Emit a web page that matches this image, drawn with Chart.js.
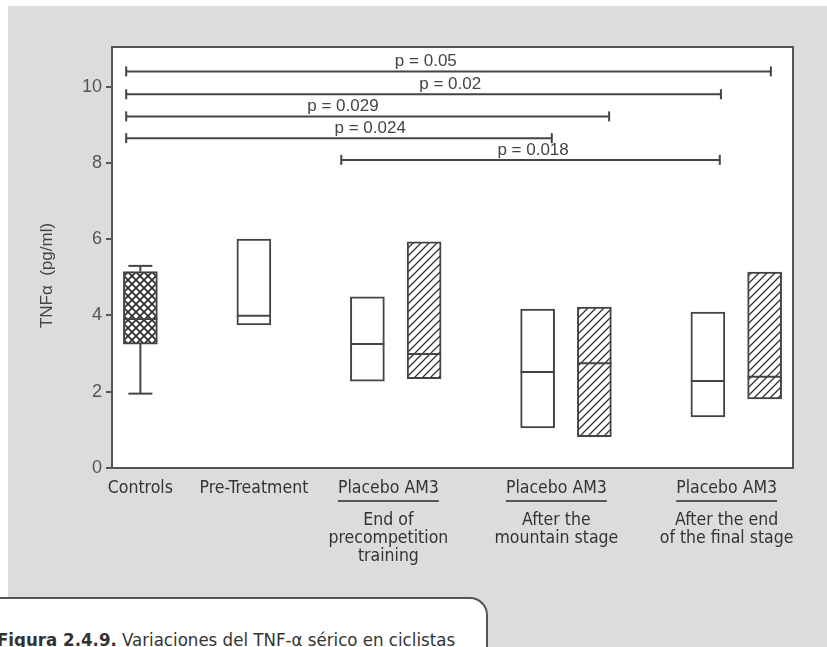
<!DOCTYPE html>
<html>
<head>
<meta charset="utf-8">
<script src="https://cdn.jsdelivr.net/npm/chart.js@4/dist/chart.umd.min.js"></script>
<style>
  html, body { margin: 0; padding: 0; background: #fff; width: 827px; height: 647px; overflow: hidden; }
  #bg { position: absolute; left: 8px; top: 6px; width: 819px; height: 641px; background: #dcdcdc; }
  #wrap { position: absolute; left: 0; top: 0; width: 827px; height: 647px; z-index: 1; }
  #caption {
    position: absolute; left: -20px; top: 597px; width: 508px; height: 70px; z-index: 2;
    background: #fff; border-top: 2px solid #555; border-right: 2px solid #555;
    border-top-right-radius: 18px; box-sizing: border-box;
  }
  #caption span.txt {
    position: absolute; left: 17px; top: 32px; white-space: nowrap;
    font: 18.5px 'DejaVu Sans Condensed', 'DejaVu Sans', sans-serif; color: #333; line-height: 1;
  }
  #caption b { font-weight: bold; }
</style>
</head>
<body>
<div id="bg"></div>
<div id="wrap"><canvas id="chart" width="827" height="647"></canvas></div>
<div id="caption"><span class="txt"><b>Figura 2.4.9.</b> Variaciones del TNF-α sérico en ciclistas</span></div>
<script>
// ── Data ─────────────────────────────────────────────────────────────────────
const boxNames   = ['Controls', 'Pre-Treatment',
                    'Placebo precomp', 'AM3 precomp',
                    'Placebo mountain', 'AM3 mountain',
                    'Placebo final', 'AM3 final']
const boxX       = [0.5, 2.5, 4.5, 5.5, 7.5, 8.5, 10.5, 11.5]
const boxLow     = [3.25, 3.75, 2.28, 2.34, 1.05, 0.82, 1.34, 1.81]
const boxHigh    = [5.15, 6.00, 4.49, 5.93, 4.17, 4.22, 4.09, 5.14]
const boxMedian  = [3.91, 3.99, 3.25, 2.99, 2.52, 2.75, 2.28, 2.39]
const boxFill    = ['cross', 'none', 'none', 'diag', 'none', 'diag', 'none', 'diag']

// controls whiskers (min / max)
const whiskerLow  = 1.95
const whiskerHigh = 5.30

// significance brackets
const bracketP      = ['p = 0.05', 'p = 0.02', 'p = 0.029', 'p = 0.024', 'p = 0.018']
const bracketY      = [10.40, 9.80, 9.22, 8.65, 8.08]
const bracketFrom   = [0.25, 0.25, 0.25, 0.25, 4.04]
const bracketTo     = [11.61, 10.73, 8.76, 7.75, 10.71]
const bracketLabelX = [5.53, 5.96, 4.07, 4.55, 7.42]

// x-axis labels
const singleLabels  = ['Controls', 'Pre-Treatment']
const singleLabelX  = [0.5, 2.5]
const groupTitle    = 'Placebo AM3'
const groupLabelX   = [4.87, 7.83, 10.83]
const groupSubtitle = [['End of', 'precompetition', 'training'],
                       ['After the', 'mountain stage'],
                       ['After the end', 'of the final stage']]

const yTicks = [0, 2, 4, 6, 8, 10]
const yTitle = 'TNFα  (pg/ml)'

// ── Styles ───────────────────────────────────────────────────────────────────
const ink      = '#444'
const frameCol = '#555'
const condFont = "'DejaVu Sans Condensed', 'DejaVu Sans', sans-serif"
const plainFont = "'Liberation Sans', Arial, sans-serif"

function makePattern(kind) {
  const size = 8
  const c = document.createElement('canvas')
  c.width = size; c.height = size
  const g = c.getContext('2d')
  g.fillStyle = '#fff'
  g.fillRect(0, 0, size, size)
  g.strokeStyle = '#333'
  g.lineWidth = kind === 'cross' ? 1.8 : 1.3
  g.beginPath()
  g.moveTo(-1, size + 1); g.lineTo(size + 1, -1)
  g.moveTo(-1, 1); g.lineTo(1, -1)
  g.moveTo(size - 1, size + 1); g.lineTo(size + 1, size - 1)
  g.stroke()
  if (kind === 'cross') {
    g.beginPath()
    g.moveTo(-1, -1); g.lineTo(size + 1, size + 1)
    g.moveTo(size - 1, -1); g.lineTo(size + 1, 1)
    g.moveTo(-1, size - 1); g.lineTo(1, size + 1)
    g.stroke()
  }
  return g.createPattern(c, 'repeat')
}

const fills = boxFill.map(f => f === 'none' ? '#fff' : makePattern(f))

// ── Datasets ─────────────────────────────────────────────────────────────────
const boxes = {
  type: 'bar',
  label: 'boxes',
  data: boxX.map((x, i) => ({ x, y: [boxLow[i], boxHigh[i]] })),
  backgroundColor: fills,
  borderColor: ink,
  borderWidth: 2,
  borderSkipped: false,
  barThickness: 34,
  order: 5,
}

const medians = {
  type: 'scatter',
  label: 'median',
  data: boxX.map((x, i) => ({ x, y: boxMedian[i] })),
  pointStyle: 'line',
  pointRadius: 17,
  borderColor: ink,
  borderWidth: 2,
  order: 1,
}

const whiskers = [
  [whiskerLow, boxLow[0]],
  [boxHigh[0], whiskerHigh],
].map(([a, b]) => ({
  type: 'line',
  data: [{ x: boxX[0], y: a }, { x: boxX[0], y: b }],
  borderColor: ink, borderWidth: 2, pointRadius: 0, fill: false,
  order: 6,
}))

const whiskerCaps = {
  type: 'scatter',
  data: [{ x: boxX[0], y: whiskerLow }, { x: boxX[0], y: whiskerHigh }],
  pointStyle: 'line', pointRadius: 12, borderColor: ink, borderWidth: 2,
  order: 6,
}

const brackets = bracketY.map((y, i) => ({
  type: 'line',
  data: [{ x: bracketFrom[i], y }, { x: bracketTo[i], y }],
  borderColor: ink, borderWidth: 2, pointRadius: 0, fill: false,
  order: 2,
}))

const bracketEnds = {
  type: 'scatter',
  data: bracketY.flatMap((y, i) => [{ x: bracketFrom[i], y }, { x: bracketTo[i], y }]),
  pointStyle: 'line', rotation: 90, pointRadius: 5, borderColor: ink, borderWidth: 2,
  order: 2,
}

// ── Decoration plugin: plot bg, frame, texts ─────────────────────────────────
const decor = {
  id: 'decor',
  beforeDraw(chart) {
    const { ctx, chartArea: a } = chart
    ctx.save()
    ctx.fillStyle = '#fff'
    ctx.fillRect(a.left, a.top, a.right - a.left, a.bottom - a.top)
    ctx.restore()
  },
  afterDatasetsDraw(chart) {
    const { ctx, chartArea: a, scales: { x, y } } = chart
    ctx.save()

    // frame
    ctx.strokeStyle = frameCol
    ctx.lineWidth = 2
    ctx.strokeRect(a.left, a.top, a.right - a.left, a.bottom - a.top)

    // p-value labels
    ctx.fillStyle = ink
    ctx.font = `17px ${plainFont}`
    ctx.textAlign = 'center'
    ctx.textBaseline = 'alphabetic'
    bracketP.forEach((t, i) => {
      ctx.fillText(t, x.getPixelForValue(bracketLabelX[i]), y.getPixelForValue(bracketY[i]) - 5)
    })

    // category labels
    ctx.fillStyle = '#333'
    ctx.font = `17.5px ${condFont}`
    const base = a.bottom + 25
    singleLabels.forEach((t, i) => ctx.fillText(t, x.getPixelForValue(singleLabelX[i]), base))
    groupLabelX.forEach((gx, i) => {
      const px = x.getPixelForValue(gx)
      ctx.fillText(groupTitle, px, base)
      const w = ctx.measureText(groupTitle).width
      ctx.strokeStyle = frameCol
      ctx.lineWidth = 2
      ctx.beginPath()
      ctx.moveTo(px - w / 2, base + 8)
      ctx.lineTo(px + w / 2, base + 8)
      ctx.stroke()
      groupSubtitle[i].forEach((s, j) => ctx.fillText(s, px, base + 32 + j * 18))
    })

    // y title
    ctx.fillStyle = ink
    ctx.font = `17px ${plainFont}`
    ctx.translate(47, (a.top + a.bottom) / 2 + 18)
    ctx.rotate(-Math.PI / 2)
    ctx.textBaseline = 'middle'
    ctx.fillText(yTitle, 0, 0)
    ctx.restore()
  },
}

// ── Chart ────────────────────────────────────────────────────────────────────
new Chart(document.getElementById('chart'), {
  type: 'bar',
  data: {
    datasets: [boxes, medians, ...whiskers, whiskerCaps, ...brackets, bracketEnds],
  },
  options: {
    responsive: false,
    animation: false,
    layout: { padding: { left: 0, top: 47, right: 34, bottom: 179 } },
    plugins: { legend: { display: false }, tooltip: { enabled: false } },
    scales: {
      x: { type: 'linear', min: 0, max: 12, offset: false, display: false },
      y: {
        min: 0, max: 11.04,
        afterFit(scale) { scale.width = 112 },
        afterBuildTicks(scale) { scale.ticks = yTicks.map(v => ({ value: v })) },
        border: { display: false },
        grid: { drawOnChartArea: false, tickLength: 6, color: frameCol, lineWidth: 2 },
        ticks: { color: '#555', padding: 4, font: { family: plainFont, size: 18 } },
      },
    },
  },
  plugins: [decor],
})
</script>
</body>
</html>
